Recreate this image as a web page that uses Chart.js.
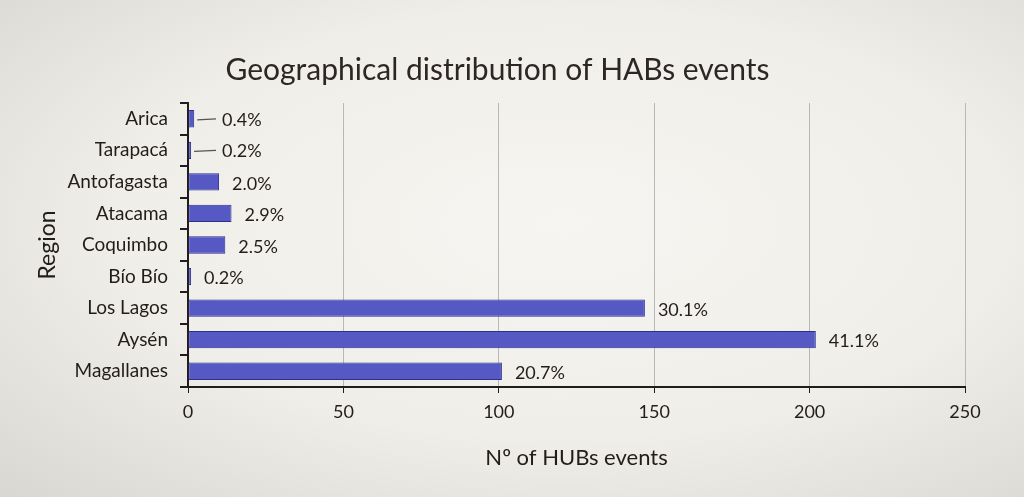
<!DOCTYPE html>
<html>
<head>
<meta charset="utf-8">
<script src="https://cdn.jsdelivr.net/npm/chart.js@4/dist/chart.umd.min.js"></script>
<style>
  html, body { margin: 0; padding: 0; }
  body {
    width: 1024px; height: 497px; overflow: hidden;
    background: radial-gradient(ellipse at 55% 45%, #f6f5f1 0%, #efeee9 55%, #d8d7d1 100%);
  }
  #wrap { position: relative; width: 1024px; height: 497px; }
</style>
</head>
<body>
<div id="wrap"><canvas id="habs-chart"></canvas></div>
<script>
// values
const regions = ["Arica", "Tarapacá", "Antofagasta", "Atacama", "Coquimbo", "Bío Bío", "Los Lagos", "Aysén", "Magallanes"];
const events = [2, 1, 10, 14, 12, 1, 147, 202, 101];
const percentLabels = ["0.4%", "0.2%", "2.0%", "2.9%", "2.5%", "0.2%", "30.1%", "41.1%", "20.7%"];
const leaderRows = ["Arica", "Tarapacá"]; // labels pulled out with a little line
const xMin = 0, xMax = 250, xStep = 50;

const inkColor = "#231c1c";
const fontFamily = "Lato, 'Open Sans', sans-serif";

// draws the percentage next to each bar
const percentPlugin = {
  id: "percentLabels",
  afterDatasetsDraw(chart) {
    const ctx = chart.ctx;
    const meta = chart.getDatasetMeta(0);
    const xScale = chart.scales.x;
    ctx.save();
    ctx.font = "18px " + fontFamily;
    ctx.fillStyle = inkColor;
    ctx.textBaseline = "middle";
    ctx.textAlign = "left";
    meta.data.forEach((bar, i) => {
      const y = bar.y + 1;
      if (leaderRows.includes(regions[i])) {
        const tx = xScale.getPixelForValue(0) + 34;
        ctx.strokeStyle = "#5a5252";
        ctx.lineWidth = 1.2;
        ctx.beginPath();
        ctx.moveTo(bar.x + 3, y);
        ctx.lineTo(tx - 6, y - 1);
        ctx.stroke();
        ctx.fillText(percentLabels[i], tx, y);
      } else {
        ctx.fillText(percentLabels[i], bar.x + 13, y + 1);
      }
    });
    ctx.restore();
  }
};

new Chart(document.getElementById("habs-chart"), {
  type: "bar",
  data: {
    labels: regions,
    datasets: [{
      label: "Nº of HUBs events",
      data: events,
      backgroundColor: "#5659c4",
      borderColor: "#2c2f8e",
      borderWidth: 1,
      borderSkipped: false,
      barPercentage: 0.55,
      categoryPercentage: 1.0
    }]
  },
  options: {
    indexAxis: "y",
    responsive: true,
    maintainAspectRatio: false,
    animation: false,
    layout: { padding: { left: 30, right: 59, top: 0, bottom: 22 } },
    plugins: {
      legend: { display: false },
      tooltip: { enabled: false },
      title: {
        display: true,
        text: "Geographical distribution of HABs events",
        color: "#2e2626",
        font: { family: fontFamily, size: 30, weight: "normal" },
        padding: { top: 52, bottom: 15 }
      }
    },
    scales: {
      x: {
        min: xMin,
        max: xMax,
        ticks: {
          stepSize: xStep,
          color: inkColor,
          font: { family: fontFamily, size: 18 },
          padding: 8
        },
        grid: {
          color: "#b9b8b4",
          lineWidth: 1,
          tickColor: inkColor,
          tickLength: 6
        },
        border: { color: inkColor, width: 2 },
        title: {
          display: true,
          text: "Nº of HUBs events",
          color: inkColor,
          font: { family: fontFamily, size: 22 },
          padding: { top: 14 }
        }
      },
      y: {
        afterFit(scale) { scale.width = 158; },
        ticks: {
          color: inkColor,
          font: { family: fontFamily, size: 19 },
          padding: 12
        },
        grid: {
          drawOnChartArea: false,
          drawTicks: true,
          offset: true,
          tickLength: 8,
          color: inkColor,
          lineWidth: 2
        },
        border: { color: inkColor, width: 2 },
        title: {
          display: true,
          text: "Region",
          color: inkColor,
          font: { family: fontFamily, size: 23 },
          padding: { bottom: 8 }
        }
      }
    }
  },
  plugins: [percentPlugin]
});
</script>
</body>
</html>
